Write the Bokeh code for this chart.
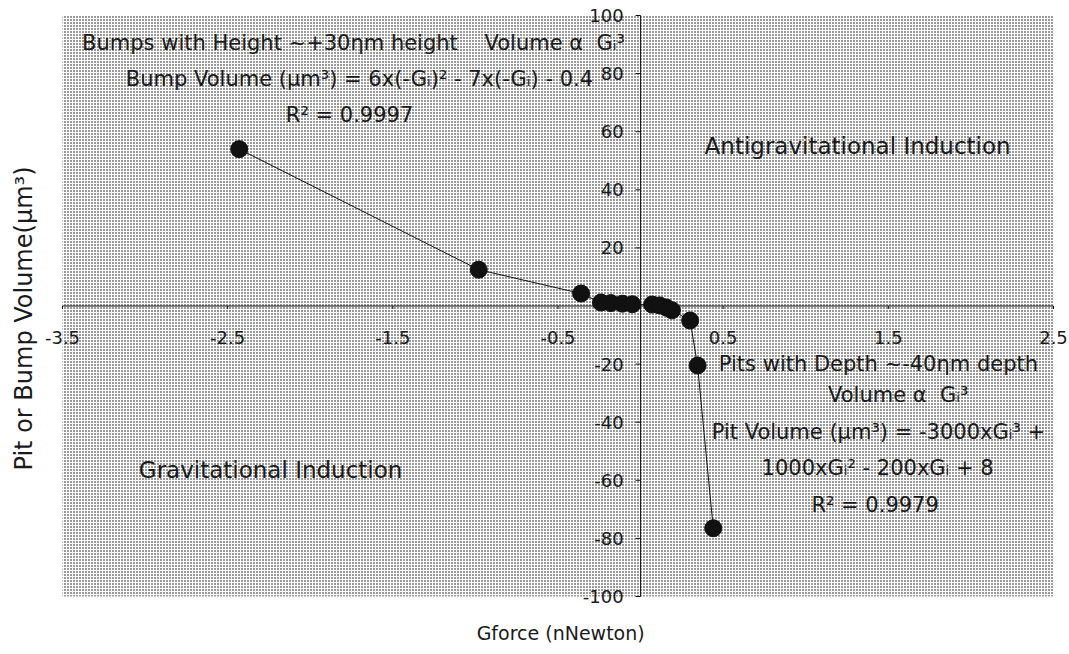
import math
from bokeh.plotting import figure
from bokeh.models import Label, BoxAnnotation, Range1d, ColumnDataSource
from bokeh.embed import file_html
from bokeh.resources import INLINE

# ---- data ----
gforce = [-2.43, -0.98, -0.36, -0.24, -0.18, -0.11, -0.05, 0.07, 0.115, 0.155, 0.19, 0.30, 0.345, 0.44]
volume = [54.0, 12.5, 4.3, 1.2, 1.0, 0.8, 0.6, 0.5, 0.2, -0.5, -1.5, -5.0, -20.5, -76.5]
x_ticks = [-3.5, -2.5, -1.5, -0.5, 0.5, 1.5, 2.5]
y_ticks = [-100, -80, -60, -40, -20, 20, 40, 60, 80, 100]
X_MIN, X_MAX = -3.5, 2.5
Y_MIN, Y_MAX = -100, 100

# ---- layout (pixels) ----
W, H = 1068, 650
PL, PR, PT, PB = 62, 1053, 15, 596          # edges of the shaded plot area
sx = (PR - PL) / (X_MAX - X_MIN)
sy = (PB - PT) / (Y_MAX - Y_MIN)

FONT = "DejaVu Sans"
TXT = "#1a1a1a"
AX = "#111111"
NB = "\u00a0"

p = figure(frame_width=W, frame_height=H,
           x_range=Range1d(X_MIN - PL / sx, X_MAX + (W - PR) / sx),
           y_range=Range1d(Y_MIN - (H - PB) / sy, Y_MAX + PT / sy),
           output_backend="svg", toolbar_location=None,
           x_axis_location=None, y_axis_location=None, min_border=0)
p.grid.visible = False
p.outline_line_color = None
p.background_fill_color = "white"
p.border_fill_color = "white"

bg = BoxAnnotation(left=X_MIN, right=X_MAX, bottom=Y_MIN, top=Y_MAX,
                   fill_color="white", fill_alpha=1.0, hatch_pattern="dot", hatch_scale=3,
                   hatch_weight=1.5, hatch_color="black", hatch_alpha=1.0, line_color=None, level="underlay")
p.add_layout(bg)

# axes crossing at zero
p.segment(x0=[X_MIN, 0], y0=[0, Y_MIN], x1=[X_MAX, 0], y1=[0, Y_MAX], line_color=AX, line_width=1)
p.ray(x=x_ticks, y=[0] * len(x_ticks), length=3, length_units="screen", angle=-math.pi / 2,
      line_color=AX, line_width=1)
p.ray(x=[0] * len(y_ticks), y=y_ticks, length=5, length_units="screen", angle=math.pi,
      line_color=AX, line_width=1)

src = ColumnDataSource(dict(x=gforce, y=volume))
p.line("x", "y", source=src, line_color="#111111", line_width=1)
p.scatter("x", "y", source=src, size=17, fill_color="#111111", line_color="#111111")

def fmt(v):
    return ("%g" % v)

for t in x_ticks:
    p.add_layout(Label(x=t, y=0, text=fmt(t), text_align="center", text_baseline="middle",
                       y_offset=-31, text_font=FONT, text_font_size="18px",
                       text_color=TXT))
for t in y_ticks:
    p.add_layout(Label(x=0, y=t, text=fmt(t), text_align="right", text_baseline="middle",
                       x_offset=-17, text_font=FONT, text_font_size="18px", text_color=TXT))

def lab(text, x, y, size="21px", angle=0.0):
    p.add_layout(Label(x=x, y=y, text=text, text_align="center", text_baseline="middle",
                       angle=angle, text_font=FONT, text_font_size=size, text_color=TXT))

# axis titles
lab("Gforce (nNewton)", -0.484, -112.4, size="19px")
lab("Pit or Bump Volume(μm³)", -3.736, -4.3, size="24px", angle=math.pi / 2)

# annotations
lab("Bumps with Height ~+30ηm height" + NB * 4 + "Volume α" + NB * 2 + "Gᵢ³", -1.738, 90.7)
lab("Bump Volume (μm³) = 6x(-Gᵢ)² - 7x(-Gᵢ) - 0.4", -1.702, 78.3)
lab("R² = 0.9997", -1.762, 65.6)
lab("Antigravitational Induction", 1.314, 55, size="23px")
lab("Gravitational Induction", -2.24, -56.6, size="23px")
lab("Pits with Depth ~-40ηm depth", 1.44, -19.8)
lab("Volume α" + NB * 2 + "Gᵢ³", 1.56, -30.8)
lab("Pit Volume (μm³) = -3000xGᵢ³ +", 1.44, -43.5)
lab("1000xGᵢ² - 200xGᵢ + 8", 1.435, -55.6)
lab("R² = 0.9979", 1.42, -68.6)

open("out.html", "w").write(file_html(p, INLINE))
